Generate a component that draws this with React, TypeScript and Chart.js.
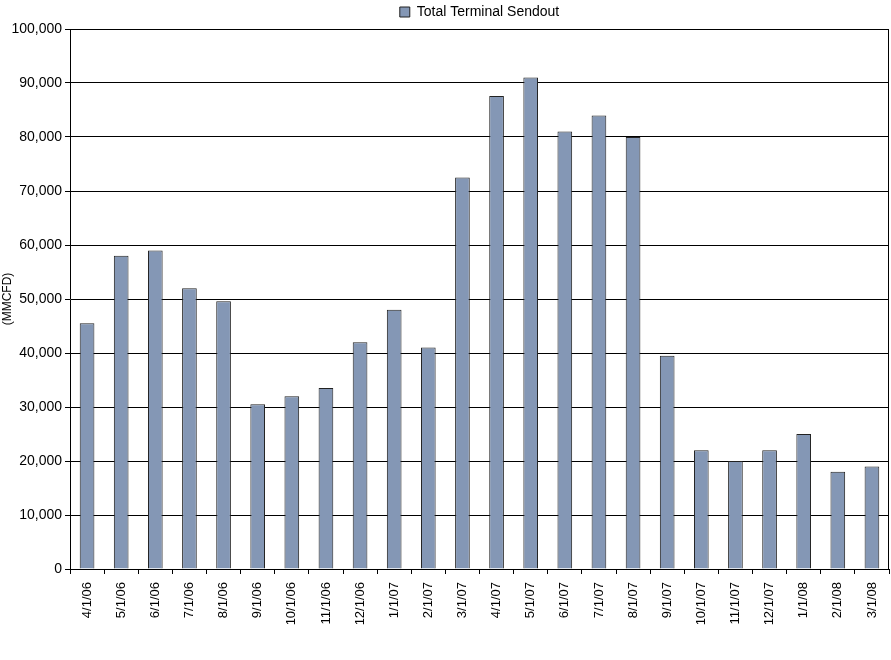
import React, { useEffect, useRef } from "react";
import { Chart, registerables } from "chart.js";

Chart.register(...registerables);

const categories: string[] = [
  "4/1/06", "5/1/06", "6/1/06", "7/1/06", "8/1/06", "9/1/06", "10/1/06", "11/1/06",
  "12/1/06", "1/1/07", "2/1/07", "3/1/07", "4/1/07", "5/1/07", "6/1/07", "7/1/07",
  "8/1/07", "9/1/07", "10/1/07", "11/1/07", "12/1/07", "1/1/08", "2/1/08", "3/1/08",
];

const sendout: number[] = [
  45500, 58000, 59000, 52000, 49600, 30500, 32000, 33500,
  42000, 48000, 41000, 72500, 87600, 91000, 81000, 84000,
  80000, 39500, 22000, 20000, 22000, 25000, 18000, 19000,
];

const seriesName = "Total Terminal Sendout";
const yAxisTitle = "(MMCFD)";
const yMin = 0;
const yMax = 100000;
const yStep = 10000;

const FONT = "Arial, 'Liberation Sans', sans-serif";

export default function App() {
  const ref = useRef<HTMLCanvasElement | null>(null);

  useEffect(() => {
    document.body.style.margin = "0";
    const canvas = ref.current;
    if (!canvas) return;

    const rightBorder = {
      id: "rightBorder",
      afterDatasetsDraw(chart: any) {
        const { ctx, chartArea } = chart;
        ctx.save();
        ctx.strokeStyle = "#000";
        ctx.lineWidth = 1;
        ctx.beginPath();
        const x = Math.round(chartArea.right) - 0.5;
        ctx.moveTo(x, chartArea.top);
        ctx.lineTo(x, chartArea.bottom);
        ctx.stroke();
        ctx.restore();
      },
    };

    const chart = new Chart(canvas, {
      type: "bar",
      data: {
        labels: categories,
        datasets: [
          {
            label: seriesName,
            data: sendout,
            backgroundColor: "#8497B5",
            borderColor: "#222",
            borderWidth: 1,
            barPercentage: 0.43,
            categoryPercentage: 1,
          },
        ],
      },
      options: {
        animation: false,
        responsive: false,
        maintainAspectRatio: false,
        layout: { padding: { left: 0, right: 2, top: 0, bottom: 0 } },
        plugins: {
          legend: {
            display: true,
            position: "top",
            fullSize: false,
            labels: {
              boxWidth: 10,
              boxHeight: 10,
              padding: 5,
              color: "#000",
              font: { family: FONT, size: 14 },
            },
          },
          tooltip: { enabled: false },
        },
        scales: {
          x: {
            offset: true,
            grid: {
              offset: true,
              drawOnChartArea: false,
              drawTicks: true,
              tickLength: 5,
              color: "#000",
            },
            border: { display: true, color: "#000", width: 1 },
            ticks: {
              autoSkip: false,
              minRotation: 90,
              maxRotation: 90,
              padding: 8,
              color: "#000",
              font: { family: FONT, size: 13 },
            },
            afterFit(scale: any) {
              scale.height = 91;
              scale.paddingLeft = 0;
              scale.paddingRight = 0;
            },
          },
          y: {
            min: yMin,
            max: yMax,
            grid: {
              color: "#000",
              lineWidth: 1,
              drawTicks: true,
              tickLength: 5,
            },
            border: { display: true, color: "#000", width: 1 },
            ticks: {
              stepSize: yStep,
              padding: 3,
              color: "#000",
              font: { family: FONT, size: 14 },
              callback: (v: any) => Number(v).toLocaleString("en-US"),
            },
            title: {
              display: true,
              text: yAxisTitle,
              color: "#000",
              font: { family: FONT, size: 12 },
              padding: { top: 0, bottom: 0 },
            },
            afterFit(scale: any) {
              scale.width = 70;
              scale.paddingTop = 0;
              scale.paddingBottom = 0;
            },
          },
        },
      },
      plugins: [rightBorder],
    });

    return () => chart.destroy();
  }, []);

  return (
    <div style={{ width: 891, height: 660 }}>
      <canvas ref={ref} width={891} height={660} style={{ display: "block" }} />
    </div>
  );
}
